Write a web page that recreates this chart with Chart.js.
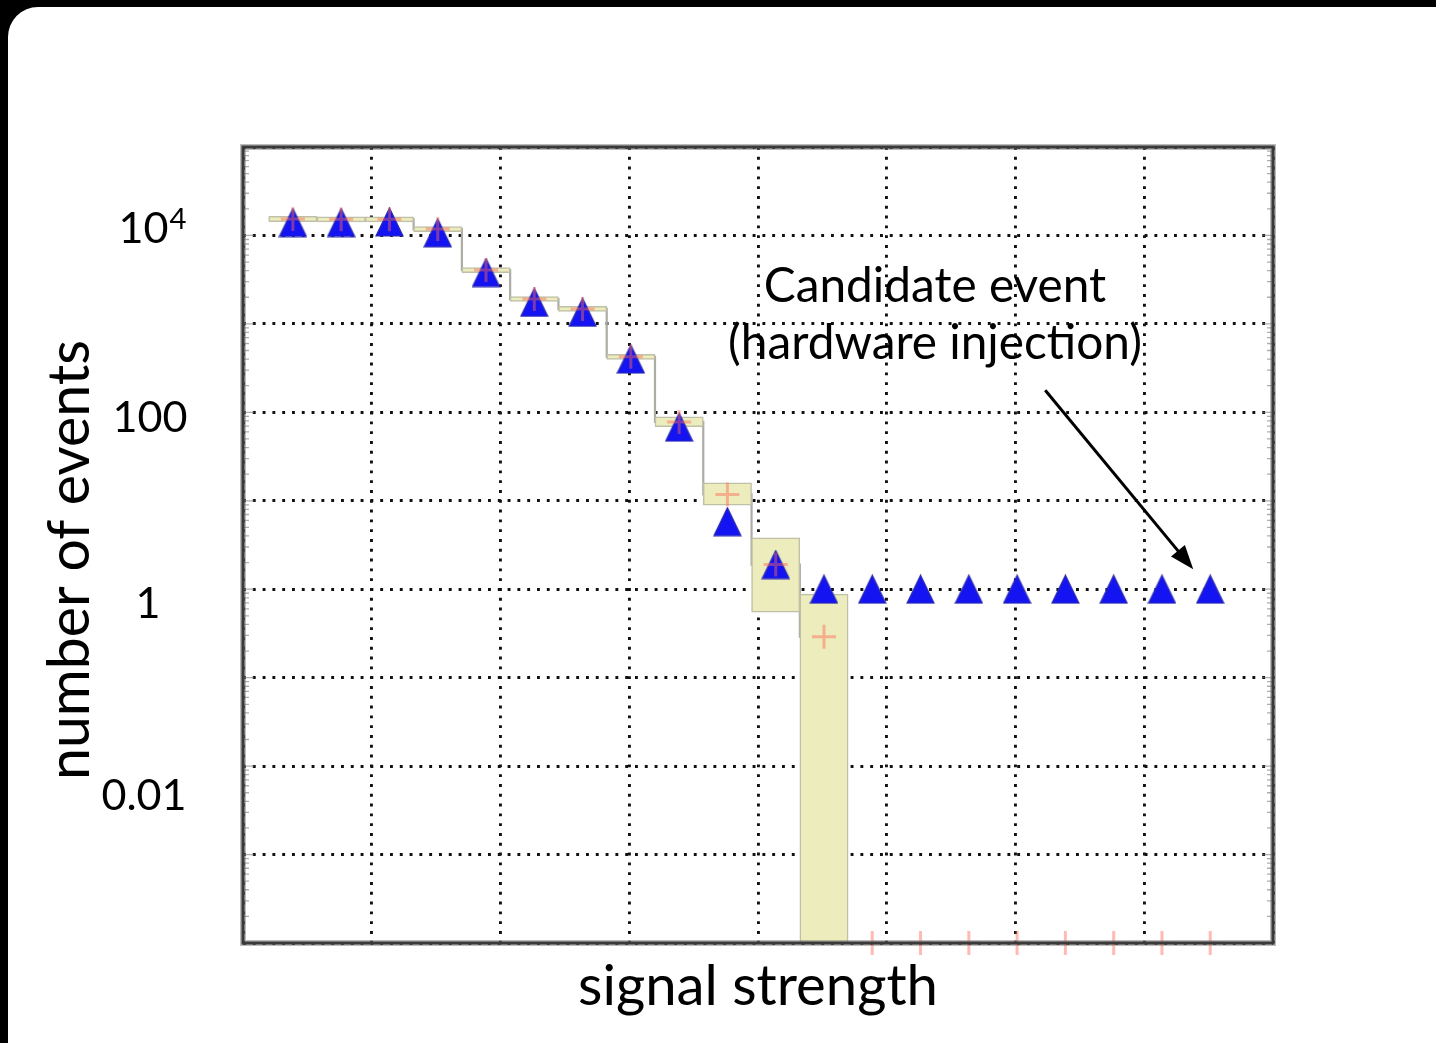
<!DOCTYPE html>
<html>
<head>
<meta charset="utf-8">
<script src="https://cdn.jsdelivr.net/npm/chart.js@4.4.1/dist/chart.umd.min.js"></script>
<style>
  html, body { margin: 0; padding: 0; background: #000; width: 1436px; height: 1043px; overflow: hidden; }
  #panel { position: absolute; left: 8px; top: 7px; width: 1470px; height: 1080px; background: #fff; border-radius: 30px; }
  #plot { position: absolute; left: 0; top: 0; }
</style>
</head>
<body>
<div id="panel"></div>
<canvas id="plot" width="1436" height="1043"></canvas>
<script>
// Histogram bins (signal strength), 20 bins
const binEdges = [0.2, 0.575, 0.95, 1.325, 1.7, 2.075, 2.45, 2.825, 3.2, 3.575, 3.95,
                  4.325, 4.7, 5.075, 5.45, 5.825, 6.2, 6.575, 6.95, 7.325, 7.7];

// Observed events per bin (triangles)
const observed = [14000, 14000, 14200, 10700, 3800, 1750, 1350, 400, 68, 5.8,
                  1.9, 1, 1, 1, 1, 1, 1, 1, 1, 1];

// Expected background per bin (crosses); empty bins sit on the axis floor
const expected = [15300, 15200, 15200, 11800, 4060, 1910, 1475, 424, 78, 11.8,
                  1.9, 0.29, 1e-4, 1e-4, 1e-4, 1e-4, 1e-4, 1e-4, 1e-4, 1e-4];

// Uncertainty band on the expected background (first 12 bins)
const expectedLow  = [14300, 14200, 14200, 11000, 3800, 1790, 1380, 396, 69, 8.9, 0.55, 1e-4];
const expectedHigh = [16400, 16200, 16200, 12600, 4340, 2040, 1580, 454, 89, 16, 3.8, 0.88];

// Vertical axis: decade grid and labelled decades
const yTickValues  = [1e-4, 1e-3, 1e-2, 1e-1, 1, 10, 100, 1e3, 1e4, 1e5];
const yLabelValues = [1e4, 100, 1, 0.01];
const yLabelTexts  = [['10', '4'], ['100'], ['1'], ['0.01']];

const xTitle = 'signal strength';
const yTitle = 'number of events';
const noteLines = ['Candidate event', '(hardware injection)'];

const FAMILY = 'Lato, "Open Sans", "DejaVu Sans", sans-serif';
const measurer = document.createElement('canvas').getContext('2d');
function fitSize(text, width) {
  measurer.font = '100px ' + FAMILY;
  return 100 * width / measurer.measureText(text).width;
}
const xTitleSize = fitSize(xTitle, 360);
const yTitleSize = fitSize(yTitle, 440);
const noteSize = fitSize(noteLines[1], 414);
const tickSize = fitSize('100', 75);

const binCenters = binEdges.slice(0, -1).map((e, i) => (e + binEdges[i + 1]) / 2);

// Blue upward triangle marker
function triangleMarker(w, h) {
  const c = document.createElement('canvas');
  c.width = w + 2; c.height = h + 2;
  const g = c.getContext('2d');
  g.beginPath();
  g.moveTo(c.width / 2, 1);
  g.lineTo(w + 1, h + 1);
  g.lineTo(1, h + 1);
  g.closePath();
  g.fillStyle = '#1414f2';
  g.fill();
  g.lineWidth = 1.2;
  g.strokeStyle = '#2a2ab0';
  g.stroke();
  return c;
}
const triangle = triangleMarker(27, 28);

// Stepped outline of the expected background over the first 12 bins
const stepPoints = expectedLow.map((_, i) => ({ x: binEdges[i], y: expected[i] }));
stepPoints.push({ x: binEdges[expectedLow.length], y: expected[expectedLow.length - 1] });

const bandBoxes = expectedLow.map((lo, i) => ({ x: binCenters[i], y: [lo, expectedHigh[i]] }));

const labelLayout = [
  { dx: 152, dy: -6 },
  { dx: 150, dy: 6 },
  { dx: 148, dy: 15 },
  { dx: 144, dy: 30 }
];

const overlay = {
  id: 'overlay',
  afterDatasetsDraw(chart) {
    const { ctx, chartArea: a, scales: { y } } = chart;
    ctx.save();
    // minor log ticks on both vertical sides
    ctx.strokeStyle = 'rgba(120,120,120,0.6)';
    ctx.lineWidth = 1.3;
    for (let k = -4; k < 5; k++) {
      for (let m = 1; m < 10; m++) {
        const py = y.getPixelForValue(m * Math.pow(10, k));
        const len = m === 1 ? 11 : 6;
        ctx.beginPath();
        ctx.moveTo(a.left, py); ctx.lineTo(a.left + len, py);
        ctx.moveTo(a.right, py); ctx.lineTo(a.right - len, py);
        ctx.stroke();
      }
    }
    // frame
    ctx.strokeStyle = 'rgba(120,120,120,0.5)';
    ctx.lineWidth = 6;
    ctx.strokeRect(a.left, a.top, a.right - a.left, a.bottom - a.top);
    ctx.strokeStyle = '#3a3a3a';
    ctx.lineWidth = 3;
    ctx.strokeRect(a.left, a.top, a.right - a.left, a.bottom - a.top);
    ctx.restore();
  },
  afterDraw(chart) {
    const { ctx, scales: { y } } = chart;
    ctx.save();
    ctx.fillStyle = '#000';
    // decade labels
    yLabelValues.forEach((v, i) => {
      const py = y.getPixelForValue(v) + labelLayout[i].dy;
      const cx = labelLayout[i].dx;
      const parts = yLabelTexts[i];
      ctx.font = tickSize + 'px ' + FAMILY;
      ctx.textBaseline = 'middle';
      if (parts.length === 2) {
        const w0 = ctx.measureText(parts[0]).width;
        ctx.font = (tickSize * 0.68) + 'px ' + FAMILY;
        const w1 = ctx.measureText(parts[1]).width;
        const left = cx - (w0 + w1) / 2;
        ctx.textAlign = 'left';
        ctx.fillText(parts[1], left + w0 + 1, py - tickSize * 0.24);
        ctx.font = tickSize + 'px ' + FAMILY;
        ctx.fillText(parts[0], left, py);
      } else {
        ctx.textAlign = 'center';
        ctx.fillText(parts[0], cx, py);
      }
    });
    // vertical axis title
    ctx.save();
    ctx.translate(89, 560);
    ctx.rotate(-Math.PI / 2);
    ctx.font = yTitleSize + 'px ' + FAMILY;
    ctx.textAlign = 'center';
    ctx.textBaseline = 'alphabetic';
    ctx.fillText(yTitle, 0, 0);
    ctx.restore();
    // note about the last bin
    ctx.font = noteSize + 'px ' + FAMILY;
    ctx.textAlign = 'center';
    ctx.textBaseline = 'alphabetic';
    ctx.fillText(noteLines[0], 935, 302);
    ctx.fillText(noteLines[1], 935, 359);
    // arrow to the last observed point
    const meta = chart.getDatasetMeta(1);
    const last = meta.data[meta.data.length - 1];
    const tx = last.x - 17, ty = last.y - 20;
    const sx = tx - 148, sy = ty - 179;
    const ang = Math.atan2(ty - sy, tx - sx);
    const cos = Math.cos(ang), sin = Math.sin(ang);
    ctx.strokeStyle = '#000';
    ctx.lineWidth = 3;
    ctx.beginPath();
    ctx.moveTo(sx, sy);
    ctx.lineTo(tx - 18 * cos, ty - 18 * sin);
    ctx.stroke();
    ctx.beginPath();
    ctx.moveTo(tx, ty);
    ctx.lineTo(tx - 24 * cos + 9 * sin, ty - 24 * sin - 9 * cos);
    ctx.lineTo(tx - 24 * cos - 9 * sin, ty - 24 * sin + 9 * cos);
    ctx.closePath();
    ctx.fill();
    ctx.restore();
  }
};

const gridStyle = { color: '#111', lineWidth: 2.9, drawTicks: false, offset: false };
const borderStyle = { display: false, dash: [2.9, 6.9] };

new Chart(document.getElementById('plot'), {
  type: 'bar',
  data: {
    datasets: [
      {
        type: 'line', label: 'expected',
        data: expected.map((v, i) => ({ x: binCenters[i], y: v })),
        showLine: false, pointStyle: 'cross', pointRadius: 12,
        pointBorderWidth: 3, pointBorderColor: 'rgba(255,105,85,0.45)',
        pointBackgroundColor: 'rgba(0,0,0,0)', clip: false, order: 0
      },
      {
        type: 'line', label: 'observed',
        data: observed.map((v, i) => ({ x: binCenters[i], y: v })),
        showLine: false, pointStyle: triangle, pointRadius: 14, order: 1
      },
      {
        type: 'bar', label: 'band',
        data: bandBoxes,
        backgroundColor: 'rgba(236,236,188,1)', borderColor: 'rgba(192,192,168,1)',
        borderWidth: 1.5, borderSkipped: false,
        barPercentage: 1, categoryPercentage: 1, order: 2
      },
      {
        type: 'line', label: 'background',
        data: stepPoints, stepped: true, fill: false,
        borderColor: 'rgba(172,172,164,1)', borderWidth: 2.2, pointRadius: 0, order: 3
      }
    ]
  },
  options: {
    responsive: false, animation: false, devicePixelRatio: 1, events: [],
    layout: { padding: { top: 147, right: 163, left: 0, bottom: 0 } },
    plugins: { legend: { display: false }, tooltip: { enabled: false } },
    scales: {
      x: {
        type: 'linear', min: 0, max: 8, offset: false,
        ticks: { display: false, stepSize: 1 },
        grid: gridStyle, border: borderStyle,
        title: {
          display: true, text: xTitle, color: '#000',
          font: { family: FAMILY, size: xTitleSize },
          padding: { top: 0, bottom: 22 }
        },
        afterFit(s) { s.height = 100; }
      },
      y: {
        type: 'logarithmic', min: 1e-4, max: 1e5,
        ticks: { display: false },
        afterBuildTicks(s) { s.ticks = yTickValues.map(v => ({ value: v })); },
        grid: gridStyle, border: borderStyle,
        afterFit(s) { s.width = 243; }
      }
    }
  },
  plugins: [overlay]
});
</script>
</body>
</html>
